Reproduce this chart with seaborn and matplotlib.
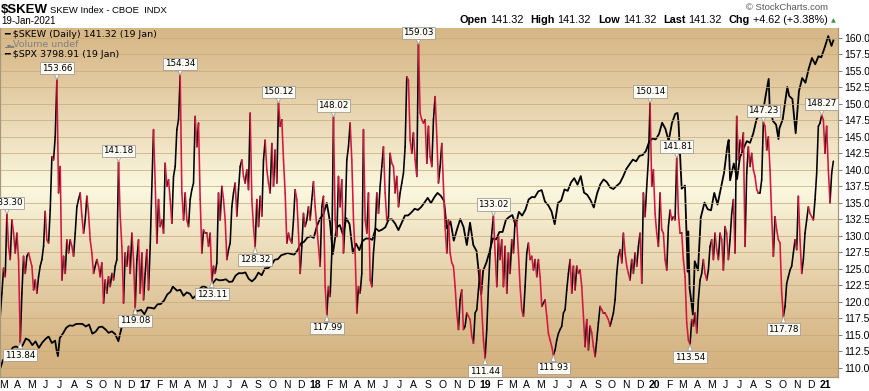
import numpy as np
import pandas as pd
import matplotlib
matplotlib.use("Agg")
import matplotlib.pyplot as plt
import matplotlib.dates as mdates
import seaborn as sns

W, H = 870, 391

# $SKEW readings, evenly spaced in time from the first to the last session
skew_a = [117.8, 121.3, 125.1, 123.8, 133.30, 128.4, 126.4, 132.4, 130.4, 127.4,
          130.4, 126.4, 113.84, 121.3, 126.9, 124.3, 126.9, 127.4, 126.4, 125.4,
          121.8, 123.3, 121.3, 123.8, 125.4, 126.4, 128.4, 133.7, 129.4, 128.9,
          133.9, 142.0, 141.5, 145.0, 153.66, 136.5, 140.5, 123.3, 126.9, 124.3,
          129.4, 127.4, 129.4, 128.4, 126.9, 130.4, 134.4, 135.5, 136.5, 133.0,
          130.4, 132.4, 136.0, 133.4, 129.4, 127.4, 124.3, 125.4, 126.4, 125.4,
          123.8, 125.9, 119.8, 123.3, 121.3, 123.8, 122.3, 124.3, 123.3, 125.4,
          126.4, 141.18, 133.0, 128.4, 119.8, 127.4, 125.4, 128.4, 124.3, 130.4,
          126.4, 119.08, 126.4, 129.4, 121.3, 127.4, 120.3, 124.3, 127.9, 121.8,
          128.4, 137.5, 146.1, 138.0, 128.9, 135.5, 131.4, 132.4, 130.4, 141.0,
          137.5, 138.5, 135.5, 131.9, 139.0, 140.5, 146.1, 147.6, 154.34, 136.5,
          132.4, 136.5, 132.4, 131.4, 135.5, 137.0, 138.0, 148.1, 143.5, 147.1,
          135.5, 127.4, 130.9, 130.4, 130.4, 128.4, 130.4, 123.11, 125.4, 124.3,
          125.9, 136.5, 132.4, 137.5, 135.5, 132.4, 126.4, 127.9, 128.9, 134.4,
          136.5, 138.0, 133.0, 137.0, 140.5, 141.5, 139.0, 138.0, 140.0, 137.0,
          148.6, 135.5, 131.4, 128.32, 135.5, 131.4, 136.0, 133.0, 141.5, 144.5,
          140.0, 138.0, 136.5, 144.0, 137.5, 143.0, 138.0, 150.12, 146.6, 147.6,
          141.5, 136.5, 128.9, 130.4, 129.4, 128.9, 132.4, 137.0, 135.5, 130.4,
          124.3]
skew_b = [128.4, 133.4, 131.4, 132.4, 134.4, 132.4, 135.5, 138.2, 134.4, 131.4,
          128.4, 125.4, 134.4, 136.0, 122.3, 117.99, 122.3, 120.8, 127.4, 148.02,
          132.4, 129.9, 139.0, 134.4, 138.5, 127.4, 132.4, 141.5, 143.5, 147.1,
          141.5, 132.4, 127.4, 118.3, 122.3, 121.3, 124.3, 146.1, 132.4, 130.4,
          136.5, 123.3, 122.3, 127.4, 130.4, 136.5, 133.4, 137.5, 140.5, 143.5,
          136.5, 132.4, 132.9, 142.5, 141.0, 140.5, 136.5, 139.0, 134.4, 136.5,
          138.0, 139.5, 143.5, 154.1, 153.6, 144.5, 142.5, 145.6, 141.5, 139.0,
          159.03, 148.6, 147.6, 147.1, 147.6, 141.0, 146.6, 142.0, 140.5, 147.6,
          151.1, 145.1, 138.0, 140.5, 144.0, 137.5, 131.4, 127.4, 132.4, 127.4,
          125.9, 125.4, 122.3, 118.3, 115.8, 120.3, 121.8, 115.8, 116.3, 118.3,
          117.8, 117.3, 114.8, 113.7, 118.3, 118.8, 121.8, 124.8, 118.8, 114.2,
          111.44, 115.8, 122.3, 127.4, 130.4, 133.02, 127.4, 122.3, 129.9, 126.4,
          129.4, 122.3, 128.4, 121.3, 127.4, 124.3, 129.4, 127.4, 132.4, 131.9,
          127.4, 122.3, 118.8, 117.8, 122.3, 127.4, 128.9, 126.4, 126.9, 124.8,
          126.4, 123.8, 126.4, 123.8, 119.3, 119.8, 120.3, 117.8, 115.2, 114.2,
          113.2, 111.93, 112.7, 114.2, 115.2, 115.8, 116.3, 118.3, 118.8, 121.8,
          124.3, 126.4]
skew_c = [121.3, 125.4, 121.8, 125.4, 124.3, 124.8, 122.3, 117.8, 113.2, 117.3,
          112.7, 116.3, 115.3, 113.2, 111.7, 114.2, 116.8, 119.3, 118.8, 118.3,
          118.3, 117.8, 117.3, 116.3, 117.3, 118.3, 120.3, 124.3, 126.9, 127.9,
          125.9, 130.4, 127.4, 125.4, 124.3, 123.3, 126.4, 124.3, 127.4, 125.4,
          128.4, 130.4, 122.8, 136.5, 132.9, 137.5, 141.5, 150.14, 137.5, 140.0,
          133.4, 130.4, 128.4, 136.5, 130.9, 130.4, 126.4, 124.8, 131.4, 133.9,
          132.4, 132.9, 132.4, 141.81, 133.4, 130.4, 130.4, 126.4, 123.8, 116.8,
          114.2, 113.54, 117.3, 116.3, 118.3, 115.3, 120.3, 123.3, 124.3, 126.4,
          124.3, 123.3, 124.8, 128.4, 129.4, 126.4, 130.4, 127.9, 126.4, 130.4,
          129.4, 124.8, 131.4, 130.4, 126.4, 129.4, 133.4, 135.5, 127.4, 148.1,
          141.5, 144.5, 143.0, 145.6, 128.4, 139.5, 143.5, 140.5, 142.5, 140.0,
          139.0, 137.0, 136.5, 136.5, 138.5, 147.23, 146.6, 143.0, 145.0, 140.0,
          132.9, 126.9, 132.9, 130.9, 129.4, 128.9, 121.3, 117.78, 119.3, 122.8,
          123.8, 124.8, 125.4, 127.4, 129.4, 127.9, 136.0, 129.4, 124.3, 126.4,
          130.4, 132.4, 134.4, 133.4, 132.9, 132.4, 135.5, 139.5, 146.6, 147.1,
          148.27, 147.6, 142.5, 146.6, 140.0, 135.0, 139.5, 141.32]
skew_start, skew_end = "2016-02-24", "2021-01-19"

# $SPX overlay (own hidden scale)
spx_dates = [
    "2016-02-24", "2016-03-01", "2016-03-08", "2016-03-15", "2016-03-22", "2016-03-29",
    "2016-04-05", "2016-04-12", "2016-04-19", "2016-04-26", "2016-05-03", "2016-05-10",
    "2016-05-17", "2016-05-24", "2016-05-31", "2016-06-07", "2016-06-14", "2016-06-21",
    "2016-06-24", "2016-06-27", "2016-07-01", "2016-07-08", "2016-07-15", "2016-07-22",
    "2016-07-29", "2016-08-05", "2016-08-12", "2016-08-19", "2016-08-26", "2016-09-02",
    "2016-09-09", "2016-09-16", "2016-09-23", "2016-09-30", "2016-10-07", "2016-10-14",
    "2016-10-21", "2016-10-28", "2016-11-04", "2016-11-11", "2016-11-18", "2016-11-25",
    "2016-12-02", "2016-12-09", "2016-12-16", "2016-12-23", "2016-12-30",
    "2017-01-06", "2017-01-13", "2017-01-20", "2017-01-27", "2017-02-03", "2017-02-10",
    "2017-02-17", "2017-02-24", "2017-03-01", "2017-03-10", "2017-03-17", "2017-03-24",
    "2017-03-31", "2017-04-07", "2017-04-13", "2017-04-21", "2017-04-28", "2017-05-05",
    "2017-05-12", "2017-05-17", "2017-05-26", "2017-06-02", "2017-06-09", "2017-06-16",
    "2017-06-23", "2017-06-30", "2017-07-07", "2017-07-14", "2017-07-21", "2017-07-28",
    "2017-08-04", "2017-08-11", "2017-08-18", "2017-08-25", "2017-09-01", "2017-09-08",
    "2017-09-15", "2017-09-22", "2017-09-29", "2017-10-06", "2017-10-13", "2017-10-20",
    "2017-10-27", "2017-11-03", "2017-11-10", "2017-11-17", "2017-11-24", "2017-12-01",
    "2017-12-08", "2017-12-15", "2017-12-22", "2017-12-29",
    "2018-01-05", "2018-01-12", "2018-01-19", "2018-01-26", "2018-02-02", "2018-02-08",
    "2018-02-16", "2018-02-23", "2018-03-02", "2018-03-09", "2018-03-16", "2018-03-23",
    "2018-03-30", "2018-04-06", "2018-04-13", "2018-04-20", "2018-04-27", "2018-05-04",
    "2018-05-11", "2018-05-18", "2018-05-25", "2018-06-01", "2018-06-08", "2018-06-15",
    "2018-06-22", "2018-06-29", "2018-07-06", "2018-07-13", "2018-07-20", "2018-07-27",
    "2018-08-03", "2018-08-10", "2018-08-17", "2018-08-24", "2018-08-31", "2018-09-07",
    "2018-09-14", "2018-09-21", "2018-09-28", "2018-10-05", "2018-10-11", "2018-10-19",
    "2018-10-26", "2018-11-02", "2018-11-09", "2018-11-16", "2018-11-23", "2018-11-30",
    "2018-12-07", "2018-12-14", "2018-12-21", "2018-12-24", "2018-12-28",
    "2019-01-04", "2019-01-11", "2019-01-18", "2019-01-25", "2019-02-01", "2019-02-08",
    "2019-02-15", "2019-02-22", "2019-03-01", "2019-03-08", "2019-03-15", "2019-03-22",
    "2019-03-29", "2019-04-05", "2019-04-12", "2019-04-18", "2019-04-26", "2019-05-03",
    "2019-05-10", "2019-05-17", "2019-05-24", "2019-05-31", "2019-06-07", "2019-06-14",
    "2019-06-21", "2019-06-28", "2019-07-05", "2019-07-12", "2019-07-19", "2019-07-26",
    "2019-08-02", "2019-08-09", "2019-08-16", "2019-08-23", "2019-08-30", "2019-09-06",
    "2019-09-13", "2019-09-20", "2019-09-27", "2019-10-04", "2019-10-11", "2019-10-18",
    "2019-10-25", "2019-11-01", "2019-11-08", "2019-11-15", "2019-11-22", "2019-11-29",
    "2019-12-06", "2019-12-13", "2019-12-20", "2019-12-27",
    "2020-01-03", "2020-01-10", "2020-01-17", "2020-01-24", "2020-01-31", "2020-02-07",
    "2020-02-14", "2020-02-19", "2020-02-21", "2020-02-28", "2020-03-06", "2020-03-12",
    "2020-03-13", "2020-03-16", "2020-03-20", "2020-03-23", "2020-03-27", "2020-04-03",
    "2020-04-09", "2020-04-17", "2020-04-24", "2020-05-01", "2020-05-08", "2020-05-15",
    "2020-05-22", "2020-05-29", "2020-06-05", "2020-06-08", "2020-06-11", "2020-06-19",
    "2020-06-26", "2020-07-02", "2020-07-10", "2020-07-17", "2020-07-24", "2020-07-31",
    "2020-08-07", "2020-08-14", "2020-08-21", "2020-08-28", "2020-09-02", "2020-09-04",
    "2020-09-11", "2020-09-18", "2020-09-23", "2020-09-25", "2020-10-02", "2020-10-09",
    "2020-10-12", "2020-10-16", "2020-10-23", "2020-10-30", "2020-11-06", "2020-11-13",
    "2020-11-20", "2020-11-27", "2020-12-04", "2020-12-11", "2020-12-18", "2020-12-24",
    "2020-12-31", "2021-01-08", "2021-01-15", "2021-01-19"]
spx_vals = [
    1930, 1978, 1979, 2015, 2049, 2055, 2045, 2061, 2100, 2091, 2063, 2084,
    2047, 2076, 2097, 2112, 2075, 2088, 2037, 2000, 2103, 2130, 2162, 2175,
    2173, 2183, 2184, 2183, 2169, 2180, 2128, 2139, 2165, 2168, 2153, 2133,
    2141, 2126, 2085, 2164, 2182, 2213, 2192, 2259, 2258, 2263, 2239,
    2277, 2275, 2271, 2295, 2297, 2316, 2351, 2367, 2396, 2373, 2378, 2344,
    2363, 2355, 2329, 2349, 2384, 2399, 2391, 2357, 2416, 2439, 2432, 2433,
    2438, 2423, 2425, 2459, 2473, 2472, 2477, 2441, 2426, 2443, 2476, 2461,
    2500, 2502, 2519, 2549, 2553, 2575, 2581, 2588, 2582, 2579, 2602, 2642,
    2651, 2675, 2683, 2674,
    2743, 2786, 2810, 2873, 2762, 2581, 2732, 2747, 2691, 2786, 2752, 2588,
    2641, 2604, 2656, 2670, 2670, 2663, 2728, 2713, 2721, 2735, 2779, 2780,
    2755, 2718, 2760, 2801, 2802, 2819, 2840, 2833, 2850, 2875, 2902, 2872,
    2905, 2930, 2914, 2885, 2728, 2767, 2658, 2723, 2781, 2736, 2633, 2760,
    2633, 2599, 2417, 2351, 2486,
    2532, 2596, 2671, 2665, 2707, 2708, 2776, 2793, 2804, 2743, 2822, 2801,
    2834, 2893, 2907, 2905, 2940, 2946, 2881, 2860, 2826, 2752, 2873, 2887,
    2950, 2942, 2990, 3014, 2977, 3026, 2932, 2919, 2889, 2847, 2926, 2979,
    3007, 2992, 2962, 2952, 2970, 2986, 3023, 3067, 3093, 3120, 3110, 3141,
    3146, 3169, 3221, 3240,
    3235, 3265, 3330, 3295, 3226, 3328, 3380, 3386, 3338, 2954, 2972, 2481,
    2711, 2386, 2305, 2237, 2541, 2489, 2790, 2875, 2837, 2831, 2930, 2864,
    2955, 3044, 3194, 3232, 3002, 3098, 3009, 3130, 3185, 3225, 3216, 3271,
    3351, 3373, 3397, 3508, 3580, 3427, 3341, 3319, 3237, 3298, 3348, 3477,
    3534, 3483, 3465, 3270, 3509, 3585, 3558, 3638, 3699, 3663, 3709, 3703,
    3756, 3824, 3768, 3799]

high_labels = [133.30, 153.66, 141.18, 154.34, 150.12, 148.02, 159.03,
               133.02, 150.14, 141.81, 147.23, 148.27]
low_labels = [113.84, 119.08, 123.11, 128.32, 117.99, 111.44, 111.93,
              113.54, 117.78]

RED = "#d6163f"
TAN = np.array([213, 179, 129]) / 255
CREAM = np.array([251, 248, 224]) / 255
GRID = "#c8a978"

skew = np.array(skew_a + skew_b + skew_c)
skew_dates = pd.date_range(skew_start, skew_end, periods=len(skew))

# one two-point piece per session, black when rising, red when falling
rows = []
for i in range(len(skew) - 1):
    d = "up" if skew[i + 1] >= skew[i] else "down"
    rows.append((i, skew_dates[i], skew[i], d))
    rows.append((i, skew_dates[i + 1], skew[i + 1], d))
seg = pd.DataFrame(rows, columns=["seg", "date", "skew", "dir"])

plt.rcParams["font.family"] = "DejaVu Sans"
fig = plt.figure(figsize=(W / 100, H / 100), dpi=100)
ax = fig.add_axes([0, 1 - 377 / H, 838 / W, 349 / H])
ax2 = ax.twinx()

t = np.linspace(0, 1, 300)
f = np.clip(1 - np.abs(t - 0.46) / 0.5, 0, 1) ** 1.2
grad = TAN + (CREAM - TAN) * f[:, None]
ax.imshow(grad[:, None, :], extent=[0, 1, 0, 1], transform=ax.transAxes,
          aspect="auto", zorder=0)

sns.lineplot(x=pd.to_datetime(spx_dates), y=spx_vals, ax=ax, color="black",
             lw=1.3, zorder=3)
sns.lineplot(data=seg, x="date", y="skew", hue="dir", units="seg",
             estimator=None, sort=False, legend=False, ax=ax2,
             palette={"up": "black", "down": RED}, lw=1.15,
             solid_capstyle="round")

box = dict(boxstyle="square,pad=0.18", fc="#fbfaf3", ec="#a39c92", lw=0.6)
arrow = dict(arrowstyle="wedge,tail_width=0.55", fc="#fbfaf3", ec="#a39c92",
             lw=0.6, shrinkA=0, shrinkB=0)
for v in high_labels:
    i = int(np.argmin(np.abs(skew - v)))
    ax2.annotate(f"{v:.2f}", xy=(skew_dates[i], v), xytext=(0, 5),
                 textcoords="offset points", ha="center", va="bottom",
                 fontsize=6.3, bbox=box, arrowprops=arrow,
                 annotation_clip=False, zorder=6)
for v in low_labels:
    i = int(np.argmin(np.abs(skew - v)))
    ax2.annotate(f"{v:.2f}", xy=(skew_dates[i], v), xytext=(0, -6),
                 textcoords="offset points", ha="center", va="top",
                 fontsize=6.3, bbox=box, arrowprops=arrow,
                 annotation_clip=False, zorder=6)

ax.set_xlim(pd.Timestamp("2016-02-23 12:00"), pd.Timestamp("2021-01-29"))
ax.set_ylim(1881, 3870)
ax2.set_ylim(108.6, 161.5)

# axes, ticks, grid
ticks = pd.date_range("2016-03-01", "2021-01-01", freq="MS")
labels = [f"{d.year % 100:02d}" if d.month == 1 else "JFMAMJJASOND"[d.month - 1]
          for d in ticks]
ax.set_xticks(ticks)
ax.set_xticklabels(labels)
for lbl, d in zip(ax.get_xticklabels(), ticks):
    lbl.set_fontfamily("Liberation Sans")
    if d.month == 1:
        lbl.set_fontweight("bold")
        lbl.set_fontsize(8.5)
ax.tick_params(axis="x", length=0, labelsize=7.5, pad=2.5)
ax.xaxis.set_minor_locator(mdates.MonthLocator(bymonth=[1, 4, 7, 10]))
ax.tick_params(axis="x", which="minor", length=0)
ax.grid(which="minor", axis="x", color=GRID, lw=0.7)
ax.tick_params(axis="y", left=False, labelleft=False)

yt = np.arange(110, 160.1, 2.5)
ax2.set_yticks(yt)
ax2.set_yticklabels([f"{v:.1f}" for v in yt], fontfamily="Liberation Sans")
ax2.tick_params(axis="y", length=3, width=0.6, color="#666666", labelsize=7.5,
                pad=1.5)
ax2.grid(axis="y", color=GRID, lw=0.6, alpha=0.85)
ax2.set_axisbelow(True)
for a in (ax, ax2):
    a.set_xlabel("")
    a.set_ylabel("")
    for name, s in a.spines.items():
        s.set_color("#a8957a")
        s.set_linewidth(0.8)
    a.spines["top"].set_visible(False)

# header
def ftext(x, y, s, **kw):
    return fig.text(x / W, 1 - y / H, s, **kw)

ftext(1, 13, r"\$SKEW", fontsize=9.5, fontweight="bold",
      fontfamily="Liberation Sans", va="baseline")
ftext(50, 13, "SKEW Index - CBOE  INDX", fontsize=6.8,
      fontfamily="Liberation Sans", va="baseline")
ftext(1, 24, "19-Jan-2021", fontsize=7, fontfamily="Liberation Sans",
      va="baseline")
ftext(828, 10, "\u00a9 StockCharts.com", fontsize=6.8, color="#555555",
      fontfamily="Liberation Sans", ha="right", va="baseline")

pieces = [("Open", "bold"), ("141.32", "normal"), ("High", "bold"),
          ("141.32", "normal"), ("Low", "bold"), ("141.32", "normal"),
          ("Last", "bold"), ("141.32", "normal"), ("Chg", "bold"),
          ("+4.62 (+3.38%)", "normal")]
renderer = fig.canvas.get_renderer()
made = []
for s, w in pieces:
    tx = ftext(0, 23, s, fontsize=7.8, fontweight=w,
               fontfamily="Liberation Sans", va="baseline")
    made.append((tx, tx.get_window_extent(renderer).width, w))
gaps = [3 if w == "bold" else 7 for _, _, w in made]
total = sum(wd for _, wd, _ in made) + sum(gaps[:-1])
x = 828 - total
for (tx, wd, _), g in zip(made, gaps):
    tx.set_x(x / W)
    x += wd + g
ftext(833, 22, "\u25b2", fontsize=4.5, color="#2f9a3a", ha="center",
      va="baseline")

# legend block inside the plot
ftext(4, 37, "\u2501 \\$SKEW (Daily) 141.32 (19 Jan)", fontsize=6.8,
      va="baseline")
ftext(4, 47, "\u2582\u2586\u2584", fontsize=3.2, color="#808080",
      va="baseline")
ftext(13, 47, "Volume undef", fontsize=6.8, color="#808080", va="baseline")
ftext(4, 57, "\u2501 \\$SPX 3798.91 (19 Jan)", fontsize=6.8, va="baseline")

fig.savefig("out.png", dpi=100)
